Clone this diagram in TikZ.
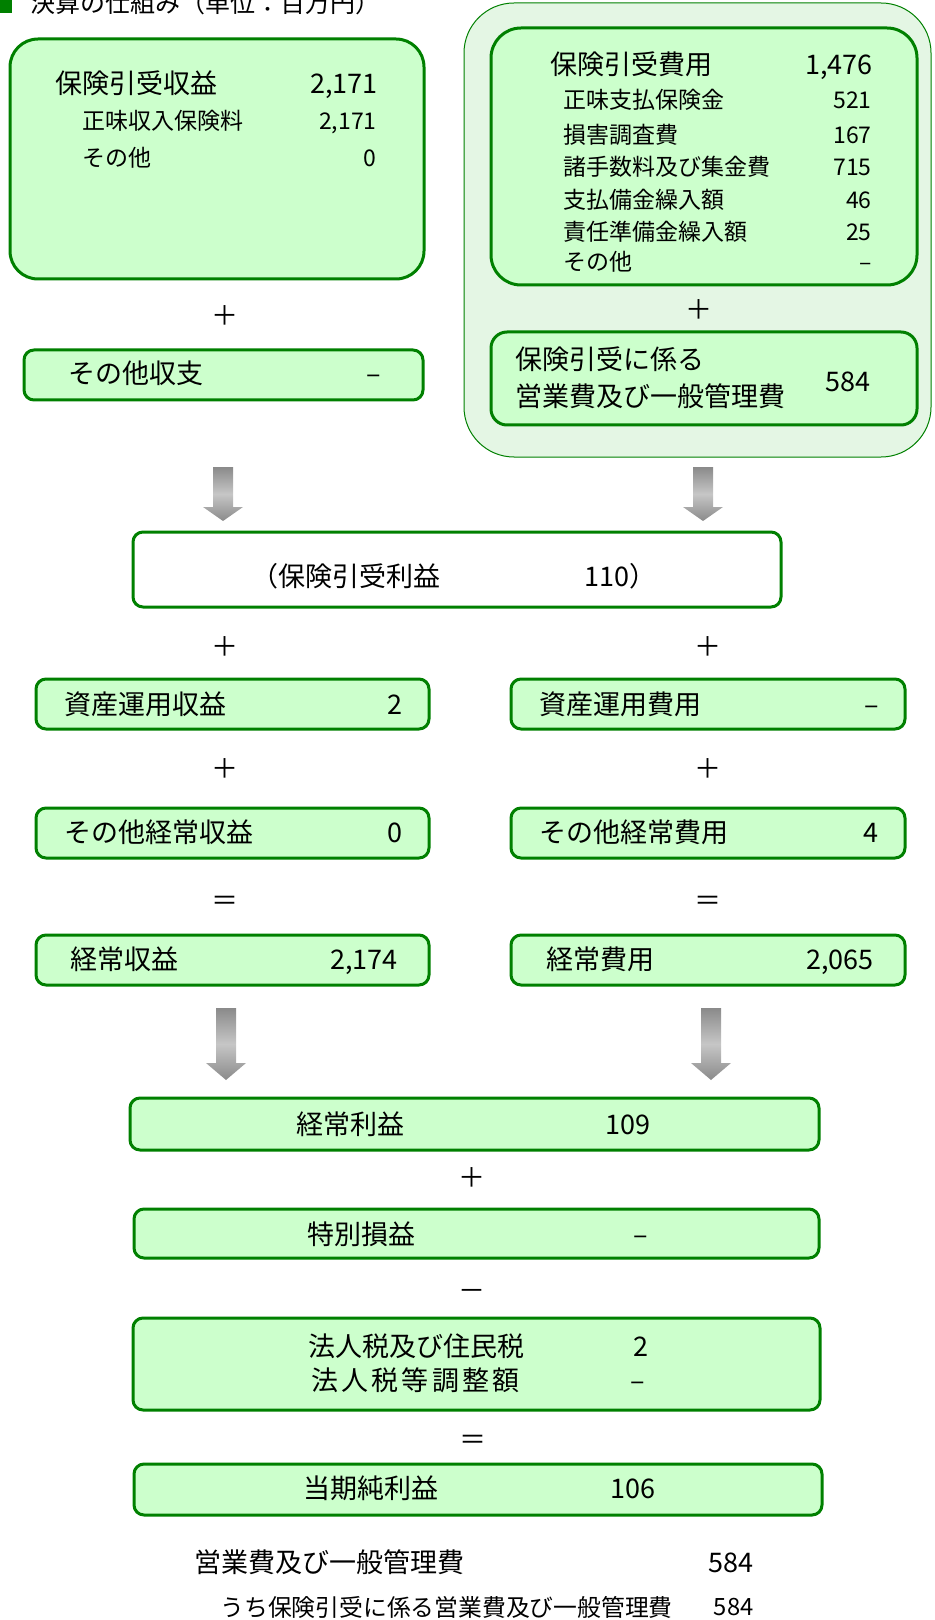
\documentclass[tikz,border=0pt]{standalone}
\usepackage{fontspec}
\setmainfont{Noto Sans CJK JP}
\usetikzlibrary{fit}
\definecolor{bfill}{HTML}{CCFFCC}
\definecolor{bline}{HTML}{008000}
\definecolor{ofill}{HTML}{E4F6E4}
\definecolor{agray}{HTML}{8A8A8A}
\definecolor{alight}{HTML}{C6C6C6}
\newcommand\garrow[4]{%
  \shade[blockarrow] (#1-10,#2) -- (#1+10,#2) -- (#1+10,#3) -- (#1+20,#3) -- (#1,#4) -- (#1-20,#3) -- (#1-10,#3) -- cycle;}
\tikzset{
  gbox/.style={draw=bline, line width=1.5pt, fill=bfill, inner sep=0pt, rounded corners=5pt},
  wbox/.style={gbox, fill=white},
  bigbox/.style={gbox, rounded corners=14pt},
  outerbox/.style={draw=bline, line width=0.5pt, fill=ofill, inner sep=0pt, rounded corners=25pt},
  bigfont/.style={font=\fontsize{13.5pt}{16pt}\selectfont, text height=11.6pt, text depth=1.9pt},
  smallfont/.style={font=\fontsize{11.5pt}{14pt}\selectfont, text height=9.9pt, text depth=1.6pt},
  lab/.style={anchor=west, inner sep=0pt, bigfont},
  num/.style={anchor=east, inner sep=0pt, bigfont},
  slab/.style={anchor=west, inner sep=0pt, smallfont},
  snum/.style={anchor=east, inner sep=0pt, smallfont},
  op/.style={inner sep=0pt, bigfont},
  blockarrow/.style={top color=agray, bottom color=agray, middle color=alight, draw=none},
}
\begin{document}
\begin{tikzpicture}[x=0.5pt,y=-0.5pt]
\useasboundingbox (0,0) rectangle (934,1620);
% title
\fill[bline] (0,0) rectangle (12,13);
\node[anchor=west, inner sep=0pt, font=\fontsize{12.5pt}{15pt}\selectfont] (title) at (30,3) {決算の仕組み（単位：百万円）};

% left top box
\node[bigbox, fit={(10,39)(424,279)}] (rev) {};
\node[lab] (rev1) at (55,84) {保険引受収益};
\node[num] (rev1n) at (378,84) {2,171};
\node[slab] (rev2) at (82,121) {正味収入保険料};
\node[snum] (rev2n) at (377,121) {2,171};
\node[slab] (rev3) at (82,158) {その他};
\node[snum] (rev3n) at (377,158) {0};
\node[op] (plusL1) at (225,316) {＋};
\node[gbox, fit={(24,350)(423,400)}] (oth) {};
\node[lab] (othl) at (68,374) {その他収支};
\node[num] (othn) at (381,374) {–};

% right top group
\node[outerbox, fit={(464,3)(931,457)}] (outer) {};
\node[bigbox, rounded corners=15pt, fit={(491,28)(917,285)}] (exp) {};
\node[lab] (exp1) at (550,65) {保険引受費用};
\node[num] (exp1n) at (873,65) {1,476};
\node[slab] (e1) at (563,100) {正味支払保険金};
\node[snum] (e1n) at (872,100) {521};
\node[slab] (e2) at (563,135) {損害調査費};
\node[snum] (e2n) at (872,135) {167};
\node[slab] (e3) at (563,167) {諸手数料及び集金費};
\node[snum] (e3n) at (872,167) {715};
\node[slab] (e4) at (563,200) {支払備金繰入額};
\node[snum] (e4n) at (872,200) {46};
\node[slab] (e5) at (563,232) {責任準備金繰入額};
\node[snum] (e5n) at (872,232) {25};
\node[slab] (e6) at (563,262) {その他};
\node[snum] (e6n) at (872,262) {–};
\node[op] (plusR1) at (699,310) {＋};
\node[gbox, rounded corners=8pt, fit={(491,332)(917,425)}] (opx) {};
\node[lab] (opx1) at (515,360) {保険引受に係る};
\node[lab] (opx2) at (515,397) {営業費及び一般管理費};
\node[num] (opxn) at (871,382) {584};

% arrows
\garrow{223}{467}{507}{521}
\garrow{703}{467}{507}{521}

% underwriting profit
\node[wbox, fit={(133,532)(781,607)}] (uw) {};
\node[lab] (uwl) at (251,577) {（保険引受利益};
\node[num] (uwn) at (657,577) {110）};

\node[op] (plusL2) at (225,647) {＋};
\node[op] (plusR2) at (708,647) {＋};

\node[gbox, fit={(36,679)(429,729)}] (ai) {};
\node[lab] (ail) at (64,705) {資産運用収益};
\node[num] (ain) at (403,705) {2};
\node[gbox, fit={(511,679)(905,729)}] (ae) {};
\node[lab] (ael) at (539,705) {資産運用費用};
\node[num] (aen) at (879,705) {–};

\node[op] (plusL3) at (225,769) {＋};
\node[op] (plusR3) at (708,769) {＋};

\node[gbox, fit={(36,808)(429,858)}] (oi) {};
\node[lab] (oil) at (64,833) {その他経常収益};
\node[num] (oin) at (403,833) {0};
\node[gbox, fit={(511,808)(905,858)}] (oe) {};
\node[lab] (oel) at (539,833) {その他経常費用};
\node[num] (oen) at (879,833) {4};

\node[op] (eqL) at (225,901) {＝};
\node[op] (eqR) at (708,901) {＝};

\node[gbox, fit={(36,935)(429,985)}] (ori) {};
\node[lab] (oril) at (70,960) {経常収益};
\node[num] (orin) at (398,960) {2,174};
\node[gbox, fit={(511,935)(905,985)}] (ore) {};
\node[lab] (orel) at (546,960) {経常費用};
\node[num] (oren) at (874,960) {2,065};

\garrow{226}{1008}{1063}{1080}
\garrow{711}{1008}{1063}{1080}

\node[gbox, fit={(130,1098)(819,1150)}] (op) {};
\node[lab] (opl) at (296,1125) {経常利益};
\node[num] (opn) at (651,1125) {109};
\node[op] (plusC) at (472,1178) {＋};
\node[gbox, fit={(134,1209)(819,1258)}] (sp) {};
\node[lab] (spl) at (307,1235) {特別損益};
\node[num] (spn) at (648,1235) {–};
\node[op] (minusC) at (472,1291) {－};
\node[gbox, fit={(133,1318)(820,1410)}] (tax) {};
\node[lab] (tax1) at (308,1347) {法人税及び住民税};
\node[num] (tax1n) at (649,1347) {2};
\node[lab] (tax2) at (311,1381) {\makebox[104pt][s]{法\hfil 人\hfil 税\hfil 等\hfil 調\hfil 整\hfil 額}};
\node[num] (tax2n) at (645,1381) {–};
\node[op] (eqC) at (473,1440) {＝};
\node[gbox, fit={(134,1464)(822,1515)}] (net) {};
\node[lab] (netl) at (303,1489) {当期純利益};
\node[num] (netn) at (656,1489) {106};

% footnote lines
\node[lab] (f1) at (194,1563) {営業費及び一般管理費};
\node[num] (f1n) at (754,1563) {584};
\node[anchor=west, inner sep=0pt, font=\fontsize{11.9pt}{14pt}\selectfont] (f2) at (220,1607) {うち保険引受に係る営業費及び一般管理費};
\node[anchor=east, inner sep=0pt, font=\fontsize{11.9pt}{14pt}\selectfont] (f2n) at (754,1607) {584};
\end{tikzpicture}
\end{document}
